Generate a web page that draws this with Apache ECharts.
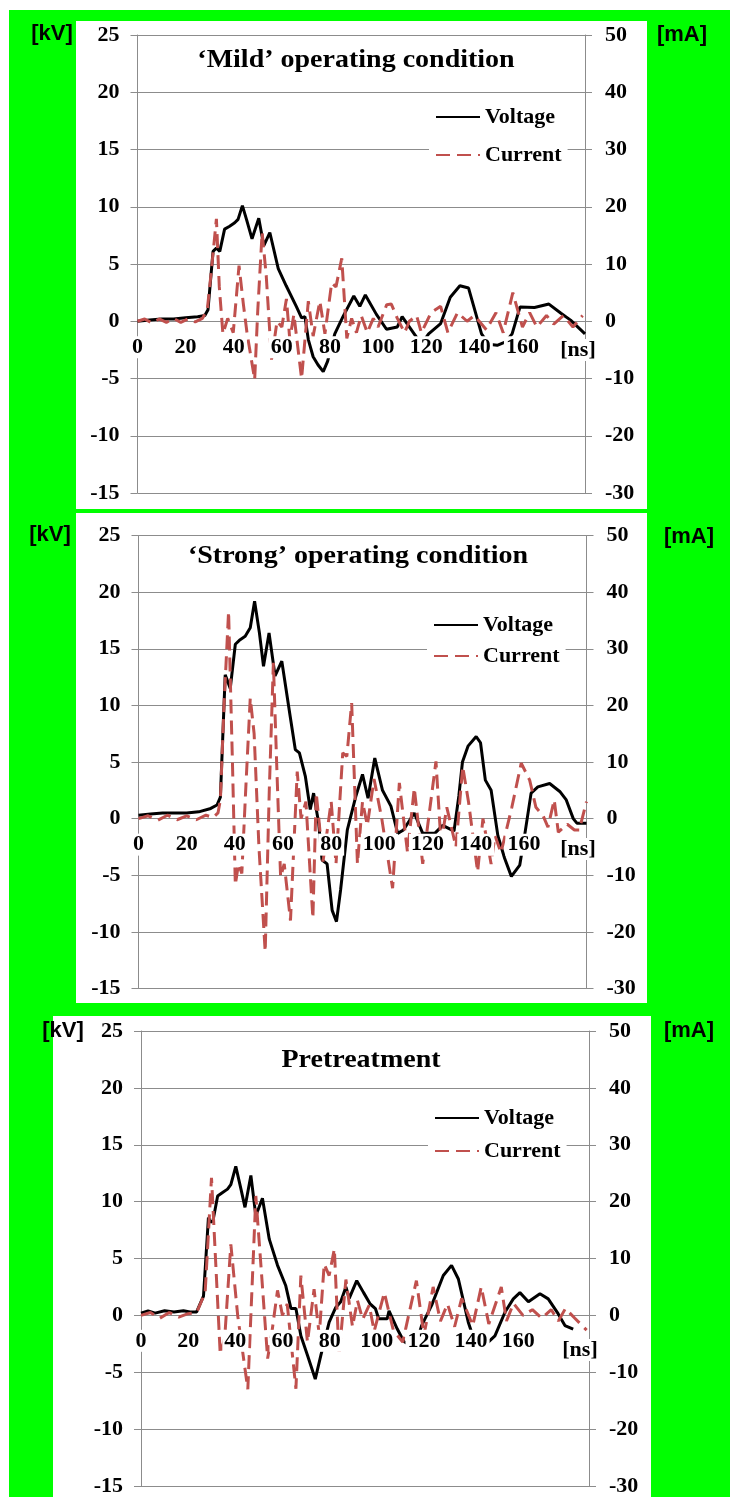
<!DOCTYPE html>
<html>
<head>
<meta charset="utf-8">
<script src="https://cdn.jsdelivr.net/npm/echarts@6/dist/echarts.min.js"></script>
<style>
  html, body { margin: 0; padding: 0; background: #fff; }
  #main { width: 730px; height: 1497px; }
</style>
</head>
<body>
<div id="main"></div>
<script>
const chart = echarts.init(document.getElementById('main'));

// [time ns, kV] and [time ns, mA]
const mildVoltage = [[0,0],[5,0.1],[10,0.2],[15,0.2],[20,0.3],[25,0.4],[28,0.5],[29.3,1],[31.4,6.1],[32.8,6.4],[34.2,6.1],[36.2,8.05],[38.3,8.3],[40.4,8.6],[41.8,8.9],[43.6,10.1],[45.3,8.9],[47.6,7.2],[50.4,9],[52.5,6.6],[55,7.75],[58.5,4.6],[61.8,3.1],[66,1.3],[68.2,0.3],[69.6,0.4],[71,-1.6],[73,-3.1],[75,-3.8],[77.2,-4.4],[79,-3.5],[82,-1.1],[85.4,0.4],[89.9,2.2],[92.4,1.3],[94.7,2.3],[99.3,0.6],[103.5,-0.7],[108,-0.5],[110,0.4],[115,-1.1],[118,-2],[121,-1.1],[126,-0.2],[130,2.1],[134,3.1],[137.6,2.9],[143,-1.1],[146,-2],[149.5,-2.1],[153,-1.8],[155.7,-1.1],[159,1.25],[165,1.2],[171,1.5],[176,0.7],[180,0.1],[186,-1.1]];
const mildCurrent = [[0,0],[3,0.4],[6,-0.3],[9,0.4],[12,-0.2],[15,0.5],[18,-0.2],[21,0.4],[24,-0.1],[27,0.5],[29,2],[30.5,8],[32.8,17.9],[34,6],[35.5,-2.2],[37.5,0.5],[39.8,-2],[42.2,9.7],[44,3],[45.5,-2],[48.7,-10.2],[50,2],[51.8,15.5],[53.5,8],[55.7,-6.7],[58,0],[60,-1],[61.9,3.9],[63.3,-3.2],[65,1.2],[68.2,-10],[71,3.5],[73,-2.6],[75.8,3.5],[77.9,-2.2],[80.7,6.7],[82.5,6],[84.9,11],[87,-3],[89,0.5],[91,-2],[93,1],[95.5,-2],[98,0.5],[100,-1],[103.6,2.9],[105.5,3],[108,0.5],[111,-2],[113,0],[116,1],[118,-2],[122,1.5],[126,2.6],[129,-2],[133,1.5],[137,0],[140,1],[145,-1.5],[149,1.5],[152,-2],[156,5],[160,-1],[163,1.5],[166,-1],[170,1],[173,-0.5],[177,1],[181,-1],[185,1]];

const strongVoltage = [[0,0.3],[5,0.4],[10,0.5],[15,0.5],[20,0.5],[25,0.6],[30,0.9],[32.6,1.2],[34,1.9],[36,12.7],[38.1,11.5],[40.2,15.4],[42.2,15.8],[44.3,16.1],[46.4,16.85],[48.2,19.2],[50.2,16.4],[51.9,13.45],[54.2,16.4],[56.7,12.6],[59.5,13.9],[63,9],[65.1,6.1],[66.8,5.8],[69.3,3.7],[71.3,0.8],[72.7,2.25],[74.8,-0.4],[76.2,-3.65],[78.3,-4],[80.4,-8.1],[82.2,-9.1],[83.9,-6.3],[86.7,-1],[90.2,1.95],[93,3.9],[95.3,1.8],[98.1,5.35],[101.3,2.5],[104.8,1.1],[107.6,-1.3],[110,-1],[114.5,0.5],[118,-1.3],[123,-1.3],[126.3,-0.6],[131,-1.1],[133,2],[134.5,5],[136.8,6.4],[140.2,7.25],[142,6.7],[144,3.4],[146.4,2.5],[149.2,-1.5],[152,-3.5],[154.8,-5.1],[158.3,-4.1],[160.3,-1.5],[163,2.25],[165.8,2.8],[170.7,3.1],[174.9,2.4],[177.6,1.65],[180.5,0],[182,-0.4],[186,-0.4]];
const strongCurrent = [[0,0],[4,0.5],[8,-0.3],[12,0.6],[16,-0.2],[20,0.5],[24,-0.2],[28,0.6],[31,0.2],[33,1],[34,3.3],[35.5,20],[37.4,36.6],[39,10],[40.2,-11.7],[41.5,-8],[42.9,-9.7],[44.5,5],[46.4,21.3],[48,15],[50,-5],[52.6,-23.5],[54.3,5],[56,27.5],[57.5,8],[59,-10.3],[60.5,-8],[63.1,-18],[65.9,8.3],[67.5,0],[69.5,3],[72.4,-17.6],[73.8,4.5],[76.6,-7.6],[80,3],[82,-8],[84.8,11.6],[86.5,11],[88.5,20.4],[90.9,-8],[93,3],[95,-1.2],[97.8,7],[101,0],[105.5,-12.3],[108.3,6.3],[111.7,-6],[114.5,5.4],[118,-8],[123.5,10.1],[125.6,-4.4],[128,2],[131.8,-5],[134.6,9.2],[137,3],[140.8,-9.4],[143,0],[146.4,-8],[148,-3],[150.5,-6],[155,2],[158.9,9.8],[162.4,6.8],[165,2],[168,0.5],[170,-1.5],[172.6,3.3],[174.3,-2.4],[178,-1],[181,-2],[183,-2],[186,3]];

const preVoltage = [[0,0.2],[3,0.4],[6,0.2],[10,0.4],[14,0.3],[18,0.4],[20.8,0.3],[23.6,0.3],[26.5,1.7],[28.6,8.6],[29.5,8.2],[30.5,8.3],[32.5,10.5],[34.6,10.8],[36.7,11.1],[38.1,11.5],[40.2,13.1],[42.4,11.1],[44.1,9.5],[46.6,12.3],[48.7,8.75],[51.5,10.3],[54.4,6.7],[57.9,4.4],[61.4,2.6],[63.6,0.6],[65.7,0.6],[67.8,-1.8],[70.6,-3.5],[73.9,-5.6],[76.3,-3.5],[79.8,-0.6],[82.6,0.7],[84.7,1.2],[86.9,2.5],[88.3,1.5],[91.5,3.05],[94.4,2],[97.2,1],[99.4,0.6],[100.8,-0.3],[104.4,-0.3],[105.2,0.4],[108.7,-1.2],[111.5,-2.3],[114,-2.6],[117,-2.3],[119,-0.9],[123.3,0.9],[128.2,3.5],[131.7,4.4],[134.6,3.2],[138.8,-0.6],[142,-2.6],[146,-2.6],[150.1,-1.8],[154.4,0.3],[157.9,1.45],[160.7,2],[164.3,1.2],[169.2,1.9],[172.7,1.45],[176.9,0.15],[179.8,-0.9],[183.3,-1.2]];
const preCurrent = [[0,0],[4,0.5],[8,-0.5],[12,0.5],[16,-0.3],[20,0.3],[23.6,0.5],[27.2,4],[29.9,24.2],[33.6,-6.8],[35.5,-4],[38.1,12.5],[41,0],[45.3,-13],[48.7,21],[51,8],[53.7,-7.6],[55.5,-3],[57.9,4.4],[60,0],[62,2],[65.7,-12.9],[67.8,7],[70.6,-4.7],[73.4,4.6],[75.6,-3.5],[77.7,9],[79.8,7],[82,11.7],[84,-7],[86.9,6.3],[89.7,-2],[91.8,2.6],[94,-0.7],[96.8,1.8],[98.9,-2.8],[103.2,4],[107,-2.6],[111,-4.7],[113.5,0],[116.8,6.1],[120,-3.5],[123.9,5],[127,-1],[130,2],[133,-2],[136,3],[140.7,-1.8],[144.3,5],[147.5,-1.5],[152.8,5],[155,-1],[158,2.1],[162,0],[166,1],[170,-0.5],[174,1],[177,-1],[180,1.2],[184,-0.5],[189,-2.6]];

const titles = ['\u2018Mild\u2019 operating condition', '\u2018Strong\u2019 operating condition', 'Pretreatment'];
const voltageSets = [mildVoltage, strongVoltage, preVoltage];
const currentSets = [mildCurrent, strongCurrent, preCurrent];
const timeMax = [186, 186, 190];
const kvRange = [-15, 25];
const maRange = [-30, 50];

// page layout of the three panels
const panels = [
  { box: [76, 21, 571, 488], grid: [137.5, 35, 447.5, 458], titleXY: [356, 61], legend: [429, 104, 16], kv: [52, 34], ma: [682, 35], ns: [578, 350] },
  { box: [76, 513, 571, 490], grid: [138.5, 535.5, 448, 453], titleXY: [358, 557], legend: [427, 612, 9], kv: [50, 535], ma: [689, 537], ns: [578, 849] },
  { box: [53, 1016, 598, 481], grid: [141, 1031, 448, 456.5], titleXY: [361, 1061], legend: [428, 1105, 11], kv: [63, 1031], ma: [689, 1031], ns: [580, 1350] }
];

const serif = 'Liberation Serif';
const gridGray = '#8c8c8c';
const red = '#c0504d';

const grids = [], xAxes = [], yAxes = [], series = [], legends = [];
const graphics = [
  { type: 'rect', z: -10, shape: { x: 9, y: 10, width: 721, height: 1487 }, style: { fill: '#00ff00' } }
];

panels.forEach((p, i) => {
  graphics.push({ type: 'rect', z: -9, shape: { x: p.box[0], y: p.box[1], width: p.box[2], height: p.box[3] }, style: { fill: '#fff' } });
  graphics.push({ type: 'text', z: 50, x: p.titleXY[0], y: p.titleXY[1], scaleX: 1.12,
    style: { text: titles[i], font: 'bold 25px "Liberation Serif"', fill: '#000', align: 'center', verticalAlign: 'middle' } });
  graphics.push({ type: 'text', z: 50, x: p.kv[0], y: p.kv[1],
    style: { text: '[kV]', font: 'bold 22px "Liberation Sans"', fill: '#000', align: 'center', verticalAlign: 'middle' } });
  graphics.push({ type: 'text', z: 50, x: p.ma[0], y: p.ma[1],
    style: { text: '[mA]', font: 'bold 22px "Liberation Sans"', fill: '#000', align: 'center', verticalAlign: 'middle' } });
  graphics.push({ type: 'text', z: 50, x: p.ns[0], y: p.ns[1],
    style: { text: '[ns]', font: 'bold 22px "Liberation Serif"', fill: '#000', align: 'center', verticalAlign: 'middle', backgroundColor: '#fff', padding: [0, 3] } });

  grids.push({ left: p.grid[0], top: p.grid[1], width: p.grid[2], height: p.grid[3] });

  // the time axis sits on the 0 kV line: shift it up from the grid bottom
  const zeroOffset = -p.grid[3] * (0 - kvRange[0]) / (kvRange[1] - kvRange[0]);
  xAxes.push({
    type: 'value', gridIndex: i, min: 0, max: timeMax[i], interval: 20, z: 5,
    position: 'bottom', offset: zeroOffset,
    axisLine: { show: false, onZero: false },
    axisTick: { show: false },
    splitLine: { show: false },
    axisLabel: {
      margin: 15, color: '#000', fontFamily: serif, fontWeight: 'bold', fontSize: 22,
      backgroundColor: '#fff', padding: [0, 2],
      formatter: v => (v % 20 === 0 && v <= 160) ? String(v) : ''
    }
  });

  yAxes.push({
    type: 'value', gridIndex: i, position: 'left', min: kvRange[0], max: kvRange[1], interval: 5,
    axisLine: { show: true, onZero: false, lineStyle: { color: gridGray, width: 1 } },
    axisTick: { show: true, length: 7, lineStyle: { color: gridGray } },
    splitLine: { show: true, lineStyle: { color: gridGray, width: 1 } },
    axisLabel: { margin: 18, color: '#000', fontFamily: serif, fontWeight: 'bold', fontSize: 22 }
  });
  yAxes.push({
    type: 'value', gridIndex: i, position: 'right', min: maRange[0], max: maRange[1], interval: 10,
    axisLine: { show: true, onZero: false, lineStyle: { color: gridGray, width: 1 } },
    axisTick: { show: true, length: 7, lineStyle: { color: gridGray } },
    splitLine: { show: false },
    axisLabel: { margin: 20, color: '#000', fontFamily: serif, fontWeight: 'bold', fontSize: 22 }
  });

  series.push({
    name: 'Voltage', type: 'line', xAxisIndex: i, yAxisIndex: i * 2, data: voltageSets[i],
    symbol: 'none', showSymbol: false, animation: false,
    lineStyle: { color: '#000', width: 3 }, itemStyle: { color: '#000' }
  });
  series.push({
    name: 'Current', type: 'line', xAxisIndex: i, yAxisIndex: i * 2 + 1, data: currentSets[i],
    symbol: 'none', showSymbol: false, animation: false,
    lineStyle: { color: red, width: 3, type: [14, 7] }, itemStyle: { color: red }
  });

  legends.push({
    data: ['Voltage', 'Current'], orient: 'vertical', left: p.legend[0], top: p.legend[1],
    itemGap: p.legend[2], itemWidth: 44, itemHeight: 14, padding: [2, 6, 2, 6],
    backgroundColor: '#fff', selectedMode: false, z: 6,
    itemStyle: { opacity: 0 },
    textStyle: { fontFamily: serif, fontWeight: 'bold', fontSize: 22, color: '#000' }
  });
});

chart.setOption({
  animation: false,
  grid: grids,
  xAxis: xAxes,
  yAxis: yAxes,
  legend: legends,
  series: series,
  graphic: graphics
});
</script>
</body>
</html>
